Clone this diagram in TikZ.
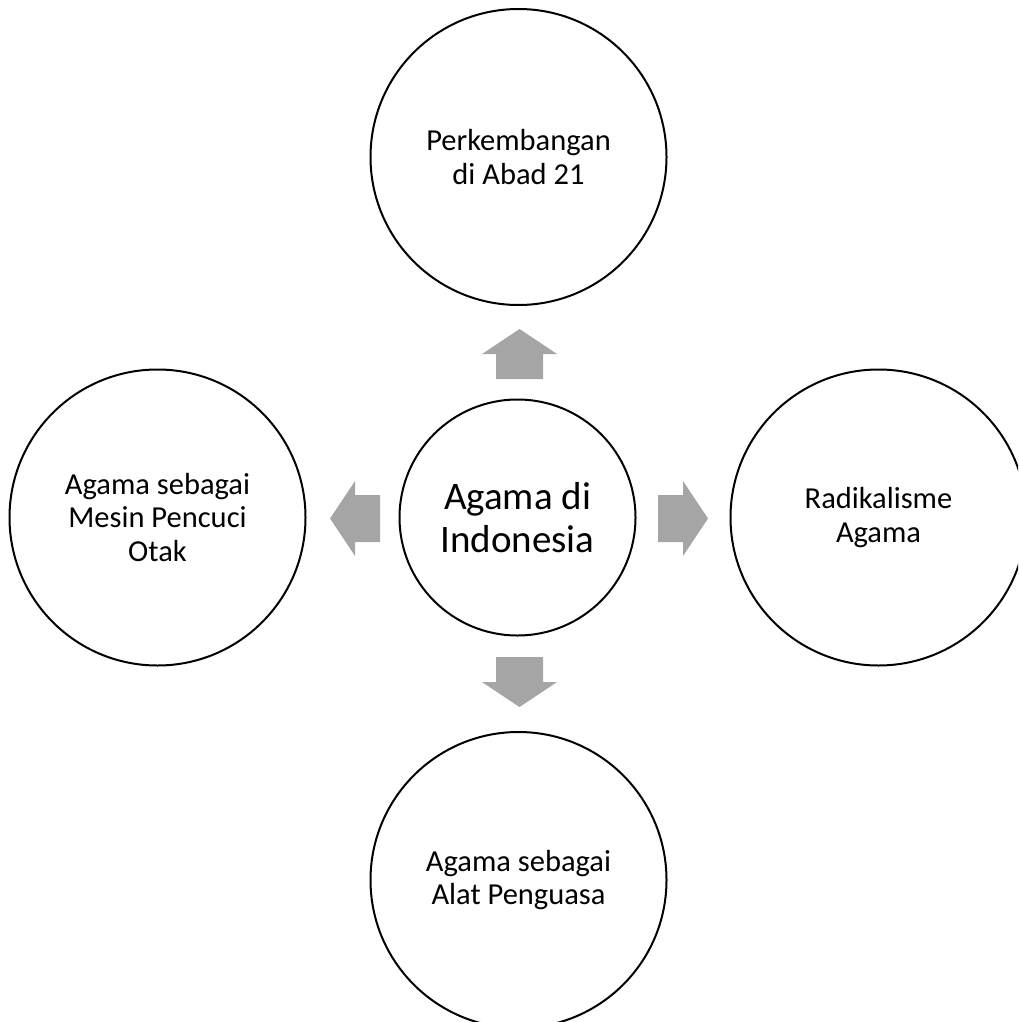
\documentclass[tikz,border=0pt]{standalone}
\usepackage{fontspec}
\setmainfont{Carlito}
\definecolor{arrowgray}{HTML}{A5A5A5}
\begin{document}
\begin{tikzpicture}[x=1pt,y=-1pt,
  outer/.style={circle, draw=black, line width=2pt, fill=white, minimum size=296pt, inner sep=0pt, align=center, font=\fontsize{30.5}{33.5}\selectfont},
  hub/.style={circle, draw=black, line width=2pt, fill=white, minimum size=236pt, inner sep=0pt, align=center, font=\fontsize{39}{42.7}\selectfont},
  blockarrow/.pic={\fill[arrowgray] (0,-25) -- (37.5,0) -- (23.5,0) -- (23.5,25) -- (-23.5,25) -- (-23.5,0) -- (-37.5,0) -- cycle;}
]
\useasboundingbox (0,0) rectangle (1018,1022);
\clip (0,0) rectangle (1018,1022);
\node[hub] (c) at (517.5,517.5) {Agama di\\Indonesia};
\node[outer] (t) at (518.5,157) {Perkembangan\\di Abad 21};
\node[outer] (l) at (157.5,517.5) {Agama sebagai\\Mesin Pencuci\\Otak};
\node[outer] (r) at (878.5,517.5) {Radikalisme\\Agama};
\node[outer] (b) at (518.5,880) {Agama sebagai\\Alat Penguasa};
\pic at (519.5,354) {blockarrow};
\pic[rotate=180] at (519.5,682) {blockarrow};
\pic[rotate=90] at (355,518.5) {blockarrow};
\pic[rotate=-90] at (683,518.5) {blockarrow};
\end{tikzpicture}
\end{document}
